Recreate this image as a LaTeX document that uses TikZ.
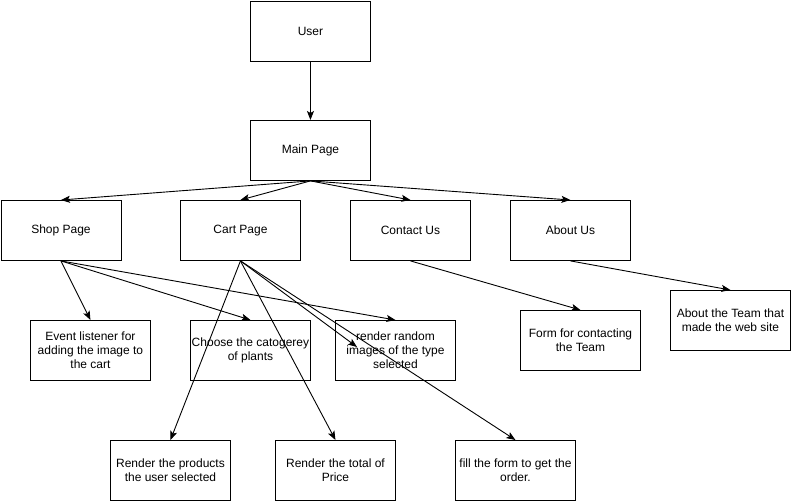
\documentclass[tikz,border=0pt]{standalone}
\usepackage{fontspec}
\setmainfont{Liberation Sans}
\usetikzlibrary{arrows.meta}
\begin{document}
\begin{tikzpicture}[x=1pt,y=-1pt,
  box/.style={draw=black,fill=white,line width=0.9pt,minimum width=120pt,minimum height=60pt,inner sep=0pt,align=center,font=\fontsize{12}{14}\selectfont,anchor=north west},
  conn/.style={draw=black,line width=0.9pt,-{Stealth[length=9pt,width=7pt,inset=2pt]}}]
\useasboundingbox (0,0) rectangle (791,501);
\node[box] (user) at (250,0.5) {User};
\node[box] (main) at (250,120) {Main Page};
\node[box] (shop) at (0.5,200) {Shop Page};
\node[box] (cart) at (180,200) {Cart Page};
\node[box] (contact) at (350,200) {Contact Us};
\node[box] (about) at (510,200) {About Us};
\node[box] (event) at (30,320) {Event listener for\\adding the image to\\the cart};
\node[box] (choose) at (190,320) {Choose the catogerey\\of plants};
\node[box] (random) at (335,320) {render random\\images of the type\\selected};
\node[box] (form) at (520,310) {Form for contacting\\the Team};
\node[box] (team) at (670,290) {About the Team that\\made the web site};
\node[box] (products) at (110,440) {Render the products\\the user selected};
\node[box] (total) at (275,440) {Render the total of\\Price};
\node[box] (fill) at (455,440) {fill the form to get the\\order.};
\coordinate (mid) at (357,347);
\draw[conn] (user.south) -- (main.north);
\draw[conn] (main.south) -- (shop.north);
\draw[conn] (main.south) -- (cart.north);
\draw[conn] (main.south) -- (contact.north);
\draw[conn] (main.south) -- (about.north);
\draw[conn] (shop.south) -- (event.north);
\draw[conn] (shop.south) -- (choose.north);
\draw[conn] (shop.south) -- (random.north);
\draw[conn] (cart.south) -- (products.north);
\draw[conn] (cart.south) -- (total.north);
\draw[conn] (cart.south) -- (fill.north);
\draw[conn] (cart.south) -- (mid);
\draw[conn] (contact.south) -- (form.north);
\draw[conn] (about.south) -- (team.north);
\end{tikzpicture}
\end{document}
